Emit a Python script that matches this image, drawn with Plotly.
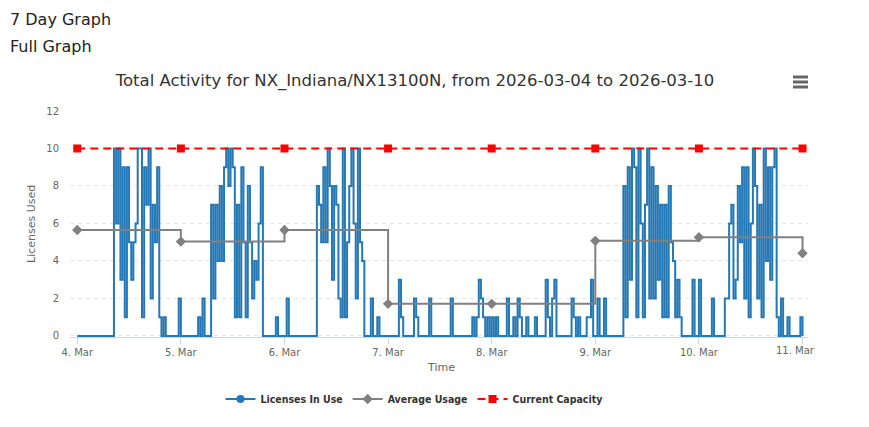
import plotly.graph_objects as go
import pandas as pd

# ---------------- data ----------------
day_starts = ["2026-03-04", "2026-03-05", "2026-03-06", "2026-03-07",
              "2026-03-08", "2026-03-09", "2026-03-10"]

# licenses in use, read every 30 minutes (48 readings per day)
use_mar04 = [0, 0, 0, 0, 0, 0, 0, 0, 0, 0, 0, 0, 0, 0, 0, 0, 0,
             10, 6, 10, 3, 9, 1, 9, 5, 3, 5, 6, 10, 10, 1, 9, 7, 10, 2, 7, 5, 9,
             1, 0, 1, 0, 0, 0, 0, 0, 0, 2]
use_mar05 = [0, 0, 0, 0, 0, 0, 0, 0, 1, 0, 2, 0, 0, 0,
             7, 2, 7, 4, 8, 4, 9, 10, 8, 10, 9, 1, 7, 1, 9, 5, 1, 8, 5, 2, 4, 3, 6, 9,
             0, 0, 0, 0, 0, 0, 1, 0, 0, 0]
use_mar06 = [0, 2, 0, 0, 0, 0, 0, 0, 0, 0, 0, 0, 0, 0, 0,
             8, 7, 5, 9, 5, 10, 8, 3, 8, 7, 2, 1, 10, 1, 5, 8, 10, 6, 2, 10, 5, 4,
             0, 0, 0, 2, 0, 0, 1, 0, 0, 0, 0]
use_mar07 = [0, 0, 0, 0, 0, 3, 1, 0, 0, 0, 0, 0, 2, 1, 0, 0, 0, 0, 0, 2,
             0, 0, 0, 0, 0, 0, 0, 0, 0, 2, 0, 0, 0, 0, 0, 0, 0, 0, 0,
             1, 0, 1, 3, 2, 1, 0, 1, 0]
use_mar08 = [1, 0, 1, 0, 0, 0, 0, 2, 0, 0, 1, 0, 2, 1, 0, 0, 1, 0, 0, 0,
             1, 0, 0, 0, 0, 3, 1, 0, 2, 3, 0, 0, 0, 0, 0, 0, 0,
             2, 1, 0, 1, 0, 0, 0, 1, 1, 3, 0]
use_mar09 = [0, 2, 0, 0, 2, 0, 0, 0, 0, 0, 0, 0, 0,
             8, 1, 9, 3, 10, 9, 1, 10, 6, 1, 7, 10, 2, 9, 2, 8, 3, 7, 1, 7, 1, 8, 5, 4,
             1, 3, 1, 0, 0, 0, 0, 0, 3, 0, 0]
use_mar10 = [3, 0, 0, 0, 0, 0, 2, 0, 0, 0, 0, 0,
             2, 2, 6, 7, 2, 3, 8, 5, 9, 2, 9, 1, 6, 10, 8, 2, 7, 1, 10, 4, 9, 3, 9, 10, 1,
             0, 2, 0, 0, 1, 0, 0, 0, 0, 0, 1]
use_end_time = "2026-03-11 00:00"
use_end_value = 0

avg_dates = ["2026-03-04", "2026-03-05", "2026-03-06", "2026-03-07",
             "2026-03-08", "2026-03-09", "2026-03-10", "2026-03-11"]
avg_values = [5.65, 5.03, 5.65, 1.71, 1.71, 5.07, 5.26, 4.41]

cap_dates = avg_dates
cap_values = [10, 10, 10, 10, 10, 10, 10, 10]

tick_dates = avg_dates
tick_labels = ["4. Mar", "5. Mar", "6. Mar", "7. Mar", "8. Mar", "9. Mar", "10. Mar", "11. Mar"]
y_ticks = [0, 2, 4, 6, 8, 10, 12]

title_text = "Total Activity for NX_Indiana/NX13100N, from 2026-03-04 to 2026-03-10"

# -------------- build series --------------
daily = [use_mar04, use_mar05, use_mar06, use_mar07, use_mar08, use_mar09, use_mar10]
use_times, use_vals = [], []
for d, vals in zip(day_starts, daily):
    slots = pd.date_range(d, periods=len(vals), freq="30min")
    use_times.extend(slots)
    use_vals.extend(vals)
use_times.append(pd.Timestamp(use_end_time))
use_vals.append(use_end_value)

FONT = "DejaVu Sans"
BLUE = "#2478b5"
GREY = "#808080"
RED = "#ff0000"

fig = go.Figure()
fig.add_trace(go.Scatter(x=use_times, y=use_vals, mode="lines", line_shape="hv",
                         line=dict(color=BLUE, width=2), showlegend=False,
                         name="Licenses In Use"))
fig.add_trace(go.Scatter(x=[None], y=[None], mode="lines+markers", name="Licenses In Use",
                         line=dict(color=BLUE, width=2),
                         marker=dict(symbol="circle", size=8, color=BLUE)))
fig.add_trace(go.Scatter(x=avg_dates, y=avg_values, mode="lines+markers", line_shape="hv",
                         name="Average Usage", line=dict(color=GREY, width=2),
                         marker=dict(symbol="diamond", size=8, color=GREY)))
fig.add_trace(go.Scatter(x=cap_dates, y=cap_values, mode="lines+markers",
                         name="Current Capacity",
                         line=dict(color=RED, width=2, dash="8px,5px"),
                         marker=dict(symbol="square", size=8, color=RED)))

# plot area: x 70..808 px, y 111..337 px
def px_x(px):
    return (px - 70) / 738

def px_y(py):
    return (337 - py) / 226

fig.update_layout(
    width=869, height=427,
    margin=dict(l=70, r=61, t=111, b=90),
    paper_bgcolor="white", plot_bgcolor="white",
    font=dict(family=FONT, color="#666666", size=11),
    title=dict(text=title_text, x=415 / 869, xref="container", xanchor="center",
               y=1 - 80 / 427, yref="container", yanchor="middle",
               font=dict(family=FONT, size=16.5, color="#333333")),
    showlegend=True,
    legend=dict(orientation="h", x=px_x(414), xanchor="center", y=px_y(399), yanchor="middle",
                font=dict(family="DejaVu Sans Condensed, DejaVu Sans", size=10.5,
                          color="#333333", weight="bold"),
                bgcolor="rgba(0,0,0,0)"),
    xaxis=dict(type="date", range=["2026-03-03 22:19", "2026-03-11 01:16"],
               tickvals=tick_dates, ticktext=tick_labels[:-1] + [""],
               showgrid=False, zeroline=False,
               showline=True, linecolor="#ccd6eb", linewidth=1,
               ticks="outside", ticklen=6, tickcolor="#ccd6eb", tickwidth=1,
               tickfont=dict(family=FONT, size=10, color="#666666")),
    yaxis=dict(range=[-0.06, 12], tickvals=y_ticks, showgrid=True, gridcolor="#e6e6e6",
               griddash="4px,4px", gridwidth=1, zeroline=False, showline=False,
               ticks="", ticklabelstandoff=10,
               tickfont=dict(family=FONT, size=10, color="#666666")),
    annotations=[
        dict(text="7 Day Graph", xref="paper", yref="paper", x=px_x(8), y=px_y(20),
             xanchor="left", yanchor="middle", showarrow=False,
             font=dict(family=FONT, size=16, color="#222222")),
        dict(text="Full Graph", xref="paper", yref="paper", x=px_x(8), y=px_y(46),
             xanchor="left", yanchor="middle", showarrow=False,
             font=dict(family=FONT, size=16, color="#222222")),
        dict(text="Licenses Used", xref="paper", yref="paper", x=px_x(31), y=px_y(224),
             xanchor="center", yanchor="middle", textangle=-90, showarrow=False,
             font=dict(family=FONT, size=11, color="#666666")),
        dict(text="Time", xref="paper", yref="paper", x=px_x(441), y=px_y(367),
             xanchor="center", yanchor="middle", showarrow=False,
             font=dict(family=FONT, size=11, color="#666666")),
        dict(text=tick_labels[-1], xref="paper", yref="paper", x=px_x(795), y=px_y(350),
             xanchor="center", yanchor="middle", showarrow=False,
             font=dict(family=FONT, size=10, color="#666666")),
    ],
    shapes=[
        dict(type="line", xref="paper", yref="paper", x0=px_x(793), x1=px_x(808),
             y0=px_y(py), y1=px_y(py), line=dict(color="#666666", width=3))
        for py in (77, 82, 87)
    ],
)

fig.write_html("out.html")
